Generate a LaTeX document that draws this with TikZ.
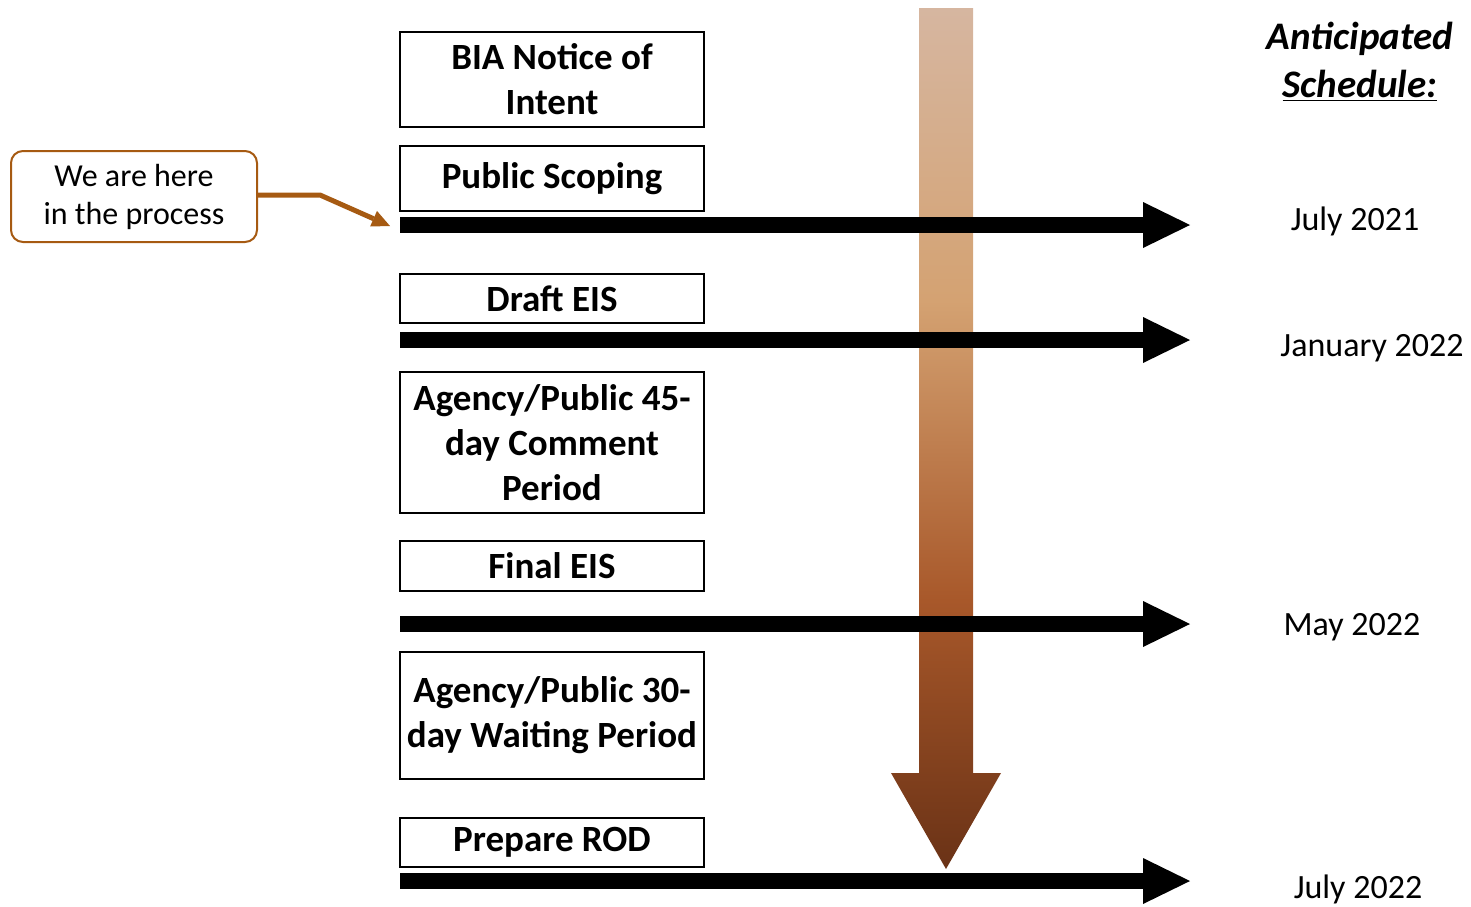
\documentclass[tikz,border=0pt]{standalone}
\usepackage{fontspec}
\setmainfont{Carlito}
\definecolor{callbrown}{RGB}{166, 90, 18}
\definecolor{flowtop}{RGB}{214, 182, 160}
\definecolor{flowmid}{RGB}{212, 162, 114}
\definecolor{flowlow}{RGB}{168, 88, 42}
\definecolor{flowbot}{RGB}{106, 50, 22}
\usetikzlibrary{arrows.meta, positioning, calc}
\pgfdeclareverticalshading{timeflow}{100bp}{color(0bp)=(flowbot); color(25bp)=(flowbot); color(40.6bp)=(flowlow); color(58bp)=(flowmid); color(75bp)=(flowtop); color(100bp)=(flowtop)}
\tikzset{
  stagebox/.style={draw, line width=1pt, minimum width=152pt, inner sep=2pt, align=center,
    font=\fontsize{18.5}{22.5}\selectfont\bfseries},
  timeline/.style={line width=8pt, -{Triangle[length=23.5pt, width=23pt, line width'=0pt]}},
  datelabel/.style={font=\fontsize{17}{20}\selectfont},
  callbox/.style={draw=callbrown, line width=1pt, rounded corners=6pt, minimum width=123pt,
    minimum height=45.5pt, align=center, font=\fontsize{16}{19}\selectfont},
  callline/.style={callbrown, line width=2.5pt, -{Triangle[length=9pt, width=8.5pt, line width'=0pt]}}
}

\begin{document}
\begin{tikzpicture}[x=0.5pt, y=-0.5pt]
  \useasboundingbox (0,0) rectangle (1471,906);

  % Flow of time
  \shade[shading=timeflow] (919,8) -- (973,8) -- (973,773) -- (1001,773) -- (946,869)
    -- (891,773) -- (919,773) -- cycle;

  % Stages
  \node[stagebox, minimum height=47.5pt] (notice) at (552,79.5) {BIA Notice of\\Intent};
  \node[stagebox, minimum height=32.5pt] (scoping) at (552,178.5) {Public Scoping};
  \node[stagebox, minimum height=24.5pt] (draft) at (552,298.5) {Draft EIS};
  \node[stagebox, minimum height=70.5pt] (comment) at (552,442.5) {Agency/Public 45-\\day Comment\\Period};
  \node[stagebox, minimum height=25pt] (final) at (552,566) {Final EIS};
  \node[stagebox, minimum height=63.5pt] (waiting) at (552,715.5) {Agency/Public 30-\\day Waiting Period};
  \node[stagebox, minimum height=24.5pt] (rod) at (552,842.5) {Prepare ROD};

  % Milestones
  \coordinate (m1s) at (400,225);  \coordinate (m1e) at (1190,225);
  \coordinate (m2s) at (400,340);  \coordinate (m2e) at (1190,340);
  \coordinate (m3s) at (400,624);  \coordinate (m3e) at (1190,624);
  \coordinate (m4s) at (400,881);  \coordinate (m4e) at (1190,881);
  \draw[timeline] (m1s) -- (m1e);
  \draw[timeline] (m2s) -- (m2e);
  \draw[timeline] (m3s) -- (m3e);
  \draw[timeline] (m4s) -- (m4e);

  % Schedule
  \node[font=\fontsize{19.5}{24}\selectfont\bfseries\itshape, align=center] (sched) at (1360,62)
    {Anticipated\\\underline{Schedule:}};
  \node[datelabel] (d1) at (1355,221) {July 2021};
  \node[datelabel] (d2) at (1372,348) {January 2022};
  \node[datelabel] (d3) at (1352,627) {May 2022};
  \node[datelabel] (d4) at (1358,889) {July 2022};

  % Callout
  \node[callbox] (here) at (134,196.5) {We are here\\in the process};
  \coordinate (herept) at (390,226);
  \draw[callline] (here.east |- 0,195) -- (320,195) -- (herept);
\end{tikzpicture}
\end{document}
